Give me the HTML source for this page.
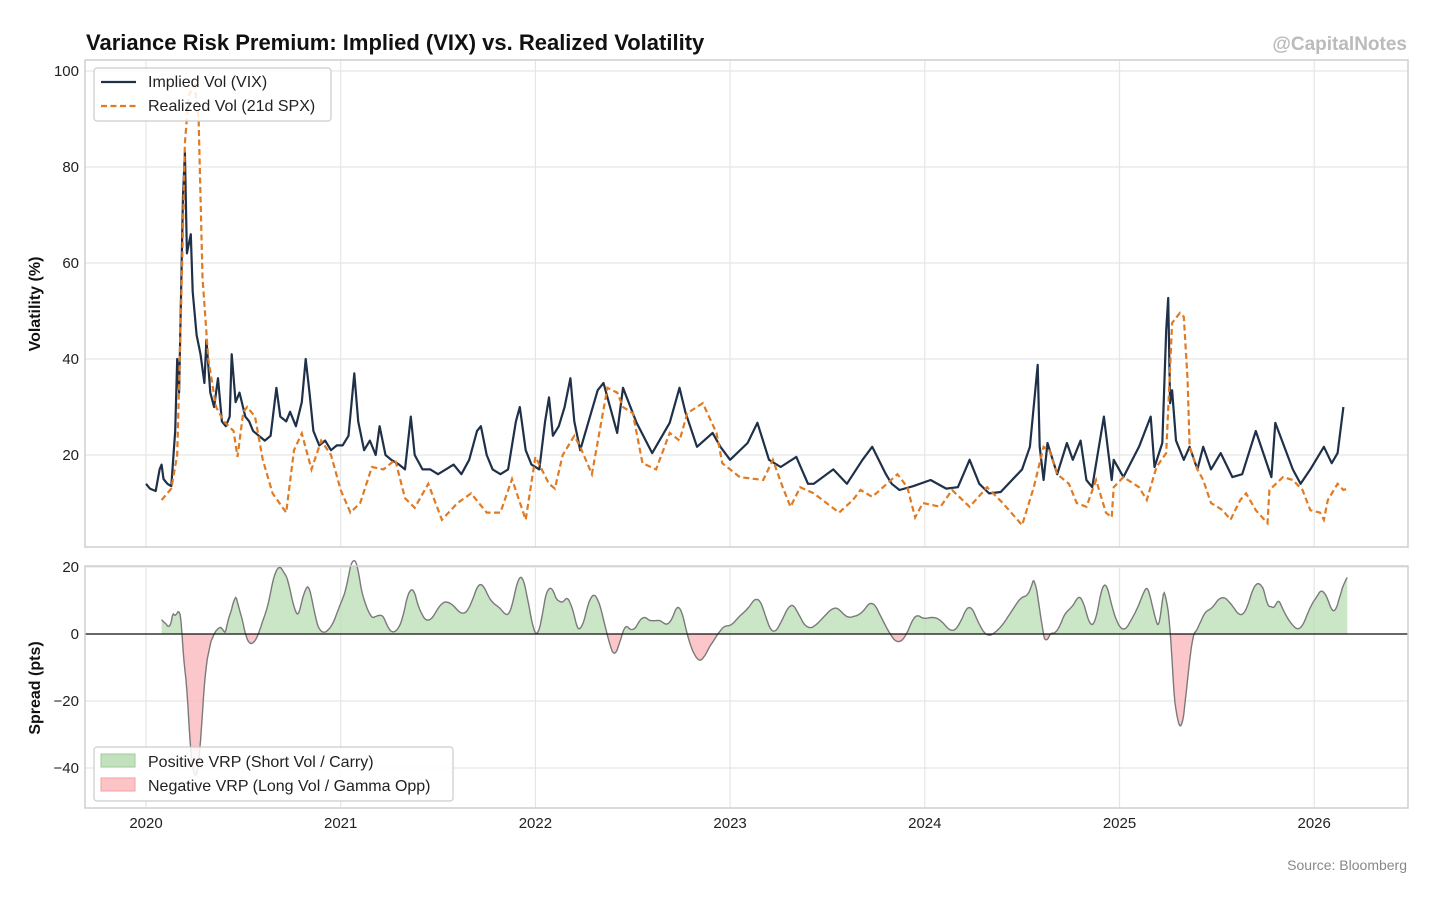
<!DOCTYPE html>
<html><head><meta charset="utf-8">
<style>
body{margin:0;background:#fff;font-family:"Liberation Sans",Arial,sans-serif;}
svg text{font-family:"Liberation Sans",Arial,sans-serif;}
</style></head>
<body>
<svg id="chart" width="1456" height="902" viewBox="0 0 1456 902" xmlns="http://www.w3.org/2000/svg">
<rect width="1456" height="902" fill="#fff"/>
<text x="86" y="50" font-size="22" font-weight="bold" fill="#111">Variance Risk Premium: Implied (VIX) vs. Realized Volatility</text>
<text x="1407" y="50" font-size="19" font-weight="bold" fill="#bbb" text-anchor="end">@CapitalNotes</text>
<text x="1407" y="870" font-size="14" fill="#888" text-anchor="end">Source: Bloomberg</text>
<g id="topPanel"></g>
<g id="botPanel"></g>
</svg>
<script>
const yearTicks=[2020,2021,2022,2023,2024,2025,2026];
const volTicks=[20,40,60,80,100];
const spreadTicks=[-40,-20,0,20];
const vixDates=[2020.00,2020.02,2020.05,2020.07,2020.08,2020.09,2020.11,2020.13,2020.15,2020.16,2020.17,2020.19,2020.20,2020.21,2020.23,2020.24,2020.26,2020.28,2020.30,2020.31,2020.33,2020.35,2020.37,2020.39,2020.41,2020.43,2020.44,2020.46,2020.48,2020.51,2020.53,2020.55,2020.58,2020.61,2020.64,2020.67,2020.69,2020.72,2020.74,2020.77,2020.80,2020.82,2020.84,2020.86,2020.89,2020.92,2020.95,2020.98,2021.01,2021.04,2021.07,2021.09,2021.12,2021.15,2021.18,2021.20,2021.23,2021.26,2021.30,2021.33,2021.36,2021.38,2021.42,2021.46,2021.50,2021.54,2021.58,2021.62,2021.66,2021.70,2021.72,2021.75,2021.78,2021.82,2021.86,2021.90,2021.92,2021.95,2021.98,2022.02,2022.05,2022.07,2022.09,2022.12,2022.15,2022.18,2022.20,2022.23,2022.32,2022.35,2022.42,2022.45,2022.52,2022.60,2022.69,2022.74,2022.77,2022.83,2022.91,2022.95,2023.00,2023.09,2023.14,2023.20,2023.26,2023.34,2023.40,2023.43,2023.53,2023.60,2023.68,2023.73,2023.80,2023.83,2023.87,2023.94,2024.03,2024.11,2024.17,2024.23,2024.28,2024.33,2024.39,2024.50,2024.54,2024.58,2024.59,2024.61,2024.63,2024.68,2024.73,2024.76,2024.80,2024.83,2024.86,2024.92,2024.96,2024.97,2025.02,2025.10,2025.16,2025.18,2025.22,2025.24,2025.25,2025.26,2025.27,2025.29,2025.33,2025.36,2025.40,2025.43,2025.47,2025.52,2025.58,2025.63,2025.70,2025.78,2025.80,2025.89,2025.93,2025.98,2026.05,2026.09,2026.12,2026.15,2026.17];
const vixValues=[14,13,12.5,17,18,15,14,13.5,25,40,33,74,83,62,66,54,45,41,35,44,33,30,36,27,26,28,41,31,33,28,27,25,24,23,24,34,28,27,29,26,31,40,33,25,22,23,21,22,22,24,37,27,21,23,20,26,20,19,18,17,28,20,17,17,16,17,18,16,19,25,26,20,17,16,17,27,30,21,18,17,27,32,24,26,30,36,27,21,33.5,35,24.6,34,26.7,20.4,26.7,34,29,21.7,24.6,21.7,19,22.5,26.7,19,17.5,19.6,14,14,17,14,19,21.7,16,14,12.7,13.5,14.8,13,13.3,19,14,12,12.3,17,21.7,38.8,21.7,14.8,22.5,16,22.5,19,23,14.8,13.3,28,14.8,19,15.4,21.7,28,17.5,22.5,46,52.7,30.8,33.5,23,19,21.7,17,21.7,17,20.4,15.4,16,25,15.4,26.7,17,14,17,21.7,18.3,20.4,30];
const rvDates=[2020.08,2020.13,2020.16,2020.18,2020.20,2020.22,2020.25,2020.27,2020.29,2020.32,2020.36,2020.40,2020.45,2020.47,2020.50,2020.52,2020.56,2020.60,2020.65,2020.72,2020.76,2020.80,2020.85,2020.90,2020.95,2021.00,2021.05,2021.10,2021.16,2021.22,2021.28,2021.33,2021.38,2021.45,2021.52,2021.60,2021.67,2021.75,2021.82,2021.88,2021.95,2022.00,2022.07,2022.10,2022.14,2022.20,2022.23,2022.29,2022.37,2022.42,2022.45,2022.50,2022.55,2022.62,2022.69,2022.74,2022.78,2022.86,2022.93,2022.96,2023.05,2023.17,2023.22,2023.27,2023.31,2023.36,2023.43,2023.56,2023.63,2023.67,2023.73,2023.77,2023.86,2023.91,2023.95,2023.99,2024.08,2024.14,2024.23,2024.32,2024.40,2024.50,2024.56,2024.61,2024.64,2024.68,2024.74,2024.78,2024.83,2024.88,2024.93,2024.96,2024.97,2025.02,2025.10,2025.14,2025.19,2025.24,2025.27,2025.31,2025.33,2025.35,2025.36,2025.40,2025.43,2025.47,2025.53,2025.57,2025.62,2025.65,2025.70,2025.76,2025.77,2025.84,2025.89,2025.94,2025.98,2026.03,2026.05,2026.07,2026.12,2026.15,2026.17];
const rvValues=[10.6,13,20,50,85,95,97,90,57,40,30,27,25,19.6,29,30,28,19,12,8,21,24.5,17,23,20,12.7,8,10,17.5,17,19,11,9,14,6.5,10,12,8,8,15,6.5,19.6,14,13,20,24,21.7,16,34,33,30,28.7,18.3,17,24.6,23,28.7,30.8,24.6,18.3,15.4,14.8,19,13.3,9.2,13.3,12,8,10.6,12.7,11.3,12.7,16,13.3,7,10,9.2,12.7,9.2,13.3,10,5.4,13.3,21.7,21,16,14,10,9.2,14.8,8,7,13.3,15.4,13.3,10.6,17.5,20.4,47.5,49.6,48.8,35.6,21.7,17,14.8,10,8.5,6.5,10.6,12,8.5,5.8,12.7,15.4,14.8,12.7,8.5,8,6.5,10.6,14,12.7,13];

const NS='http://www.w3.org/2000/svg';
const gTop=document.getElementById('topPanel'),gBot=document.getElementById('botPanel');
const X0=146,XPY=194.7;
function xs(t){return X0+(t-2020)*XPY;}
function yTop(v){return 551-4.8*v;}
function yBot(v){return 634-3.35*v;}
function mk(tag,attrs,parent){const e=document.createElementNS(NS,tag);for(const k in attrs)e.setAttribute(k,attrs[k]);parent.appendChild(e);return e;}
const L=85,R=1408,T1=60,B1=547,T2=566,B2=808;
for(const yr of yearTicks){
 let g=mk('line',{x1:xs(yr),x2:xs(yr),y1:T1,y2:B1,stroke:'#e6e6e6','stroke-width':1.2},gTop);
 
 
 g=mk('line',{x1:xs(yr),x2:xs(yr),y1:T2,y2:B2,stroke:'#e6e6e6','stroke-width':1.2},gBot);
 
 
 const t=mk('text',{x:xs(yr),y:828,'font-size':15,fill:'#222','text-anchor':'middle'},gBot);t.textContent=yr;
 
 
}
for(const v of volTicks){
 const g=mk('line',{x1:L,x2:R,y1:yTop(v),y2:yTop(v),stroke:'#e6e6e6','stroke-width':1.2},gTop);
 
 
 const t=mk('text',{x:79,y:yTop(v)+5,'font-size':15,fill:'#222','text-anchor':'end'},gTop);t.textContent=v;
 
 
}
for(const v of spreadTicks){
 const g=mk('line',{x1:L,x2:R,y1:yBot(v),y2:yBot(v),stroke:'#e6e6e6','stroke-width':1.2},gBot);
 
 
 const t=mk('text',{x:79,y:yBot(v)+5,'font-size':15,fill:'#222','text-anchor':'end'},gBot);t.textContent=v===0?'0':(v<0?'\u2212'+(-v):v);
 
 
}
let yl=mk('text',{x:0,y:0,'font-size':16,'font-weight':'bold',fill:'#111','text-anchor':'middle',transform:'translate(40,304) rotate(-90)'},gTop);yl.textContent='Volatility (%)';


yl=mk('text',{x:0,y:0,'font-size':16,'font-weight':'bold',fill:'#111','text-anchor':'middle',transform:'translate(40,688) rotate(-90)'},gBot);yl.textContent='Spread (pts)';


const defs=mk('defs',{},document.getElementById('chart'));
let cp=mk('clipPath',{id:'c1'},defs);mk('rect',{x:L,y:T1,width:R-L,height:B1-T1},cp);
cp=mk('clipPath',{id:'cpos'},defs);mk('rect',{x:L,y:T2,width:R-L,height:634-T2},cp);
cp=mk('clipPath',{id:'cneg'},defs);mk('rect',{x:L,y:634,width:R-L,height:B2-634},cp);
function pathOf(d,v,ys){const n=Math.min(d.length,v.length);let s='';for(let i=0;i<n;i++)s+=(i?'L':'M')+xs(d[i]).toFixed(1)+','+ys(v[i]).toFixed(1);return s;}
let p=mk('path',{d:pathOf(vixDates,vixValues,yTop),fill:'none',stroke:'#1f3049','stroke-width':2.2,'clip-path':'url(#c1)','stroke-linejoin':'round'},gTop);


p=mk('path',{d:pathOf(rvDates,rvValues,yTop),fill:'none',stroke:'#e07b24','stroke-width':2.2,'stroke-dasharray':'6,3.5','clip-path':'url(#c1)'},gTop);


function interp(d,v,t){const n=Math.min(d.length,v.length);if(t<=d[0])return v[0];for(let i=1;i<n;i++)if(t<=d[i]){const f=(t-d[i-1])/(d[i]-d[i-1]);return v[i-1]+f*(v[i]-v[i-1]);}return v[n-1];}
const st=[],raw=[];
for(let t=rvDates[0];t<=2026.171;t+=0.005){st.push(t);raw.push(interp(vixDates,vixValues,t)-interp(rvDates,rvValues,t));}
const W=5;
const sv=raw.map((_,i)=>{let s=0,c=0;for(let k=i-W;k<=i+W;k++){if(k>=0&&k<raw.length){s+=raw[k];c++;}}return s/c;});
let line=pathOf(st,sv,yBot);
let area=line+'L'+xs(st[st.length-1]).toFixed(1)+',634L'+xs(st[0]).toFixed(1)+',634Z';
p=mk('path',{d:area,fill:'#b9dcb4','fill-opacity':0.75,'clip-path':'url(#cpos)'},gBot);


p=mk('path',{d:area,fill:'#fbb9bd','fill-opacity':0.8,'clip-path':'url(#cneg)'},gBot);


p=mk('path',{d:line,fill:'none',stroke:'#7a7a7a','stroke-width':1.4},gBot);


p=mk('line',{x1:L,x2:R,y1:634,y2:634,stroke:'#111','stroke-width':1.3},gBot);


p=mk('rect',{x:L,y:T1,width:R-L,height:B1-T1,fill:'none',stroke:'#cfcfcf','stroke-width':1.5},gTop);


p=mk('rect',{x:L,y:T2,width:R-L,height:B2-T2,fill:'none',stroke:'#cfcfcf','stroke-width':1.5},gBot);


let lg=mk('g',{},gTop);


mk('rect',{x:94,y:68,width:237,height:53,rx:3,fill:'#fff','fill-opacity':0.85,stroke:'#ccc','stroke-width':1.2},lg);
mk('line',{x1:101,x2:136,y1:82,y2:82,stroke:'#1f3049','stroke-width':2.2},lg);
mk('line',{x1:101,x2:136,y1:106,y2:106,stroke:'#e07b24','stroke-width':2.2,'stroke-dasharray':'6,3.5'},lg);
let tt=mk('text',{x:148,y:87,'font-size':16,fill:'#222'},lg);tt.textContent='Implied Vol (VIX)';


tt=mk('text',{x:148,y:111,'font-size':16,fill:'#222'},lg);tt.textContent='Realized Vol (21d SPX)';


lg=mk('g',{},gBot);


mk('rect',{x:94,y:747,width:359,height:54,rx:3,fill:'#fff','fill-opacity':0.85,stroke:'#ccc','stroke-width':1.2},lg);
mk('rect',{x:101,y:754,width:34,height:13,fill:'#c2e0bd',stroke:'#9fcb98'},lg);
mk('rect',{x:101,y:778,width:34,height:13,fill:'#fcc4c7',stroke:'#f3a0a5'},lg);
tt=mk('text',{x:148,y:767,'font-size':16,fill:'#222'},lg);tt.textContent='Positive VRP (Short Vol / Carry)';


tt=mk('text',{x:148,y:791,'font-size':16,fill:'#222'},lg);tt.textContent='Negative VRP (Long Vol / Gamma Opp)';


</script>
</body></html>
